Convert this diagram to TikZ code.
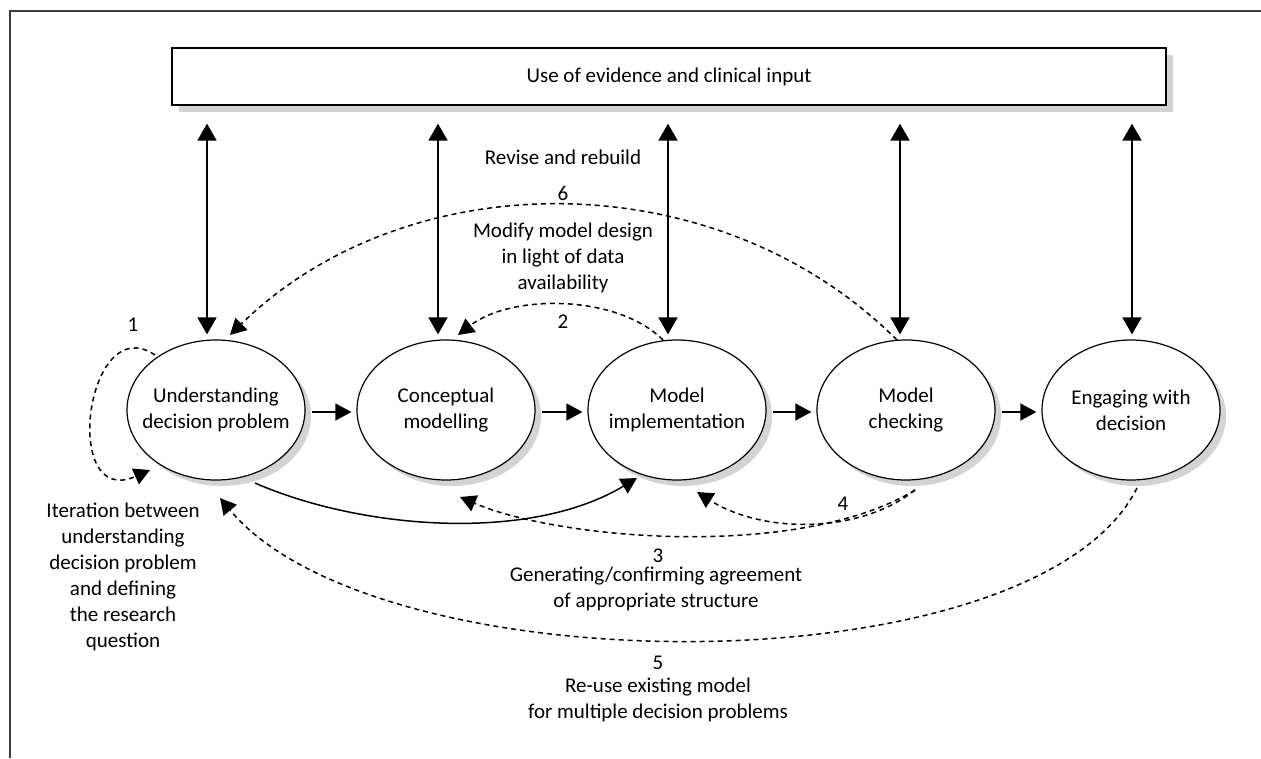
\documentclass[tikz,border=0pt]{standalone}
\usepackage{fontspec}
\setmainfont{Carlito}
\usetikzlibrary{arrows.meta,shapes.geometric,shadows,calc}
\definecolor{shadowgrey}{RGB}{211,211,211}
\definecolor{framegrey}{RGB}{60,60,60}

\begin{document}
\begin{tikzpicture}[x=1pt,y=-1pt,
  every node/.style={font=\fontsize{21}{26}\selectfont, text=black},
  stage/.style={ellipse, draw, line width=1.2pt, fill=white,
    minimum width=178pt, minimum height=140pt, inner xsep=-40pt, inner ysep=0pt,
    align=center,
    drop shadow={shadow xshift=6pt, shadow yshift=-6pt, fill=shadowgrey, opacity=1}},
  inputbox/.style={draw, line width=1.3pt, fill=white,
    minimum width=994pt, minimum height=57pt, inner sep=0pt,
    drop shadow={shadow xshift=7pt, shadow yshift=-7pt, fill=shadowgrey, opacity=1}},
  lbl/.style={align=center, inner sep=0pt},
  vlink/.style={line width=1.8pt,
    {Triangle[width=19pt,length=17pt]}-{Triangle[width=19pt,length=17pt]},
    shorten <=18pt, shorten >=5pt},
  hlink/.style={line width=1.5pt, -{Triangle[width=17pt,length=16pt]},
    shorten <=6pt, shorten >=5pt},
  slink/.style={line width=1.5pt, -{Triangle[width=17pt,length=16pt]}},
  dlink/.style={line width=1.5pt, dash pattern=on 5pt off 4pt,
    -{Triangle[width=17pt,length=16pt]}}
]
\useasboundingbox (0,0) rectangle (1261,758);

% outer frame (left and top edges)
\draw[framegrey, line width=1.2pt] (10,758) -- (10,11) -- (1261,11);

% evidence box and the five stages
\node[inputbox] (evid) at (669,76.5) {Use of evidence and clinical input};
\node[stage] (u) at (216,410) {Understanding\\decision problem};
\node[stage] (c) at (446,410) {Conceptual\\modelling};
\node[stage] (m) at (677,410) {Model\\implementation};
\node[stage] (k) at (906,410) {Model\\checking};
\node[stage] (e) at (1131,410) {Engaging with\\decision};

% two-way links with the evidence box
\foreach \n/\dx in {u/-9,c/-8,m/-9,k/-6,e/1}
  \draw[vlink] ([xshift=\dx pt]\n.north |- evid.south) -- ([xshift=\dx pt]\n.north);

% forward sequence
\foreach \a/\b in {u/c,c/m,m/k,k/e}
  \draw[hlink] ([yshift=-2pt]\a.east) -- ([yshift=-2pt]\b.west);

% direct jump from understanding to implementation
\draw[slink] ($(u)+(39,73)$) .. controls ($(u)+(144,119)$) and ($(m)+(-148,133)$) .. ($(m)+(-40,68)$);

% feedback loops
\draw[dlink] ($(u)+(-61,-55)$) .. controls ($(u)+(-130,-102)$) and ($(u)+(-156,100)$) .. ($(u)+(-66,60)$);
\draw[dlink] ($(m)+(-14,-70)$) .. controls ($(m)+(-60,-116)$) and ($(c)+(65,-116)$) .. ($(c)+(12,-75)$);
\draw[dlink] ($(k)+(-9,-70)$) .. controls ($(k)+(-188,-249)$) and ($(u)+(192,-249)$) .. ($(u)+(14,-75)$);
\draw[dlink] ($(k)+(9,80)$) .. controls ($(k)+(-46,124)$) and ($(m)+(86,124)$) .. ($(m)+(20,82)$);
\draw[dlink] ($(k)+(9,80)$) .. controls ($(k)+(-106,150)$) and ($(c)+(114,130)$) .. ($(c)+(14,87)$);
\draw[dlink] ($(e)+(6,78)$) .. controls ($(e)+(-95,280)$) and ($(u)+(162,278)$) .. ($(u)+(4,88)$);

% labels
\node[lbl] (l1) at (133,325) {1};
\node[lbl] (lrev) at (563,157) {Revise and rebuild};
\node[lbl] (l6) at (563,193) {6};
\node[lbl] (lmod) at (563,258) {Modify model design\\in light of data\\availability};
\node[lbl] (l2) at (563,322) {2};
\node[lbl] (l4) at (843,504) {4};
\node[lbl] (l3) at (658,556) {3};
\node[lbl] (lgen) at (656,589) {Generating/confirming agreement\\of appropriate structure};
\node[lbl] (l5) at (658,663) {5};
\node[lbl] (lre) at (658,700) {Re-use existing model\\for multiple decision problems};
\node[lbl] (liter) at (123,576.5) {Iteration between\\understanding\\decision problem\\and defining\\the research\\question};
\end{tikzpicture}
\end{document}
